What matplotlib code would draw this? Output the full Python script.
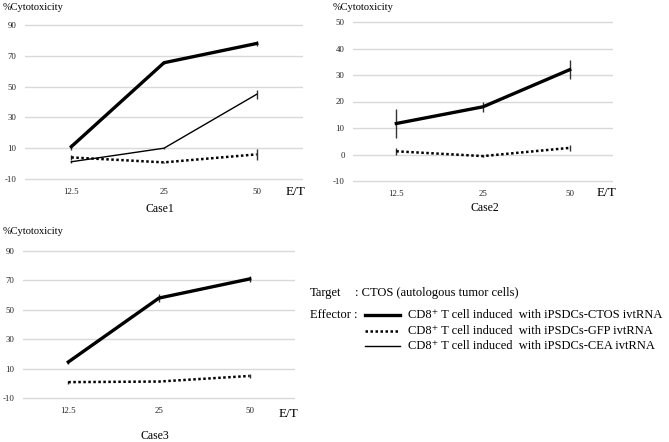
import matplotlib
matplotlib.use("Agg")
import matplotlib.pyplot as plt
from matplotlib.lines import Line2D

plt.rcParams['font.family'] = ['Liberation Serif', 'DejaVu Serif']
plt.rcParams['axes.unicode_minus'] = False

W, H = 669, 442
et_labels = ["12.5", "25", "50"]

# Case1
case1_ctos = [11, 65.5, 78]
case1_ctos_err = [2, 0.5, 1.5]
case1_gfp = [4, 0.8, 6]
case1_gfp_err = [1.5, 0.3, 3.5]
case1_cea = [1.2, 10, 45]
case1_cea_err = [0.5, 0.3, 3]

# Case2
case2_ctos = [11.7, 18, 32]
case2_ctos_err = [5.5, 1.8, 3.5]
case2_gfp = [1.2, -0.6, 2.5]
case2_gfp_err = [1.2, 0.3, 1]

# Case3
case3_ctos = [14.5, 58, 71]
case3_ctos_err = [1.2, 3, 2]
case3_gfp = [0.8, 1.2, 5]
case3_gfp_err = [1, 0.3, 1.5]

fig = plt.figure(figsize=(W / 100, H / 100), dpi=100)


def make_axes(x0, x1, ytop, ybot, vtop, vbot):
    # pixel box -> figure fraction; ylim slightly padded so gridlines aren't clipped
    pad = 2
    ax = fig.add_axes([x0 / W, 1 - (ybot + pad) / H, (x1 - x0) / W, (ybot - ytop + 2 * pad) / H])
    per_px = (vtop - vbot) / (ybot - ytop)
    ax.set_ylim(vbot - pad * per_px, vtop + pad * per_px)
    ax.set_xlim(-0.5, 2.5)
    for s in ax.spines.values():
        s.set_visible(False)
    ax.set_yticks(range(int(vbot), int(vtop) + 1, 20 if vtop > 60 else 10))
    ax.grid(axis='y', color='#d9d9d9', lw=1)
    ax.set_axisbelow(True)
    ax.set_xticks([0, 1, 2])
    ax.set_xticklabels(et_labels)
    ax.tick_params(length=0, labelsize=6.3, colors='#222222')
    ax.tick_params(axis='x', pad=5)
    ax.tick_params(axis='y', pad=6)
    return ax


def draw(ax, y, err, style):
    x = [0, 1, 2]
    ax.errorbar(x, y, yerr=err, color='black', ecolor='#333333', elinewidth=1,
                capsize=0, **style)


ctos_style = dict(lw=2.4, ls='-')
gfp_style = dict(lw=1.8, ls=(0, (1, 1)))
cea_style = dict(lw=1.0, ls='-')

ax1 = make_axes(25, 303, 25, 179, 90, -10)
draw(ax1, case1_ctos, case1_ctos_err, ctos_style)
draw(ax1, case1_gfp, case1_gfp_err, gfp_style)
draw(ax1, case1_cea, case1_cea_err, cea_style)

ax2 = make_axes(353, 613, 22, 181, 50, -10)
draw(ax2, case2_ctos, case2_ctos_err, ctos_style)
draw(ax2, case2_gfp, case2_gfp_err, gfp_style)

ax3 = make_axes(23, 295, 251, 398, 90, -10)
draw(ax3, case3_ctos, case3_ctos_err, ctos_style)
draw(ax3, case3_gfp, case3_gfp_err, gfp_style)


def ftext(x, y, s, **kw):
    fig.text(x / W, 1 - y / H, s, **kw)


for (x, y) in [(3, 7), (333, 7), (3, 232)]:
    ftext(x, y, "%Cytotoxicity", fontsize=7.5, va='center', ha='left')
for (x, y) in [(286, 192), (597, 193), (279, 414)]:
    ftext(x, y, "E/T", fontsize=9.5, va='center', ha='left')
for (x, y, s) in [(160, 209, "Case1"), (485, 208, "Case2"), (155, 436, "Case3")]:
    ftext(x, y, s, fontsize=8.5, va='center', ha='center')

# legend block
ftext(310, 293, "Target", fontsize=9, va='center')
ftext(355, 293, ": CTOS (autologous tumor cells)", fontsize=9, va='center')
ftext(310, 315, "Effector :", fontsize=9, va='center')
legend_rows = [
    (315, ctos_style, "CD8\u207a T cell induced  with iPSDCs-CTOS ivtRNA"),
    (331, gfp_style, "CD8\u207a T cell induced  with iPSDCs-GFP ivtRNA"),
    (346, cea_style, "CD8\u207a T cell induced  with iPSDCs-CEA ivtRNA"),
]
for y, st, label in legend_rows:
    fig.add_artist(Line2D([365 / W, 400 / W], [1 - y / H, 1 - y / H], color='black', **st))
    ftext(408, y, label, fontsize=9, va='center')

fig.savefig("out.png", dpi=100)
